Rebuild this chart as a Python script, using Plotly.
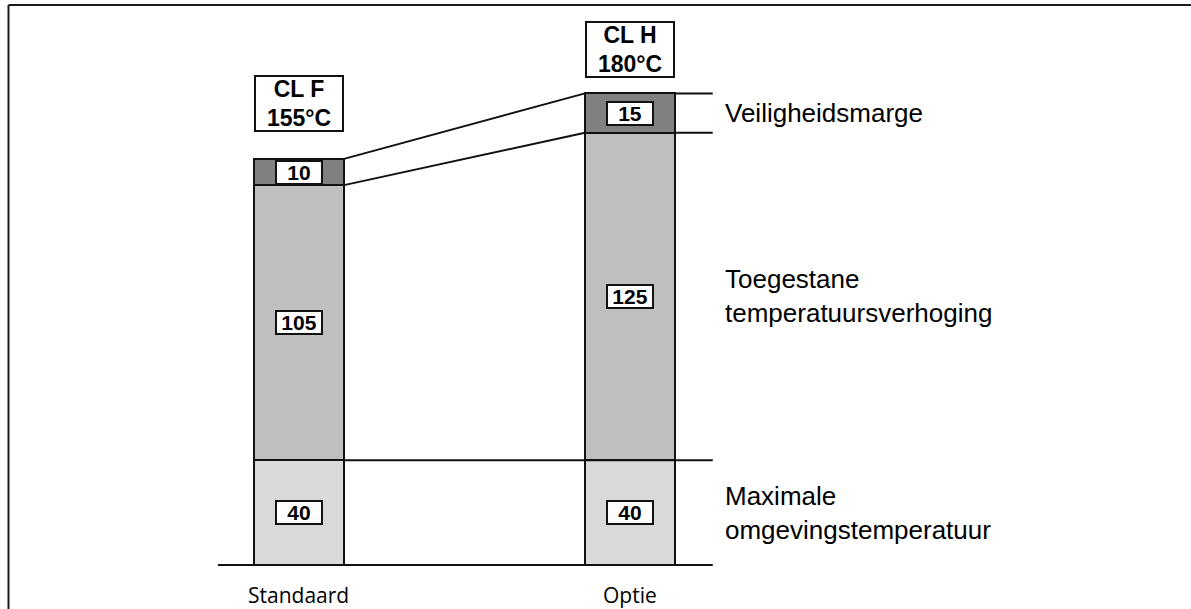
import plotly.graph_objects as go

# Two insulation classes, stacked temperature budget in °C
positions = [0, 1]
categories = ["Standaard", "Optie"]
class_labels = ["CL F<br>155°C", "CL H<br>180°C"]
ambient = [40, 40]            # Maximale omgevingstemperatuur
rise = [105, 125]             # Toegestane temperatuursverhoging
margin = [10, 15]             # Veiligheidsmarge
layer_names = ["Veiligheidsmarge", "Toegestane<br>temperatuursverhoging",
               "Maximale<br>omgevingstemperatuur"]

W, H = 1191, 609
BAR_W = 0.272
X_RANGE = [-0.9033, 2.6949]
Y_RANGE = [-16.79, 215.65]
GUIDE_END = 1.25
BASE_START = -0.245

layers = [
    (ambient, "#d9d9d9"),
    (rise, "#bfbfbf"),
    (margin, "#808080"),
]

fig = go.Figure()
for vals, col in layers:
    fig.add_trace(go.Bar(
        x=positions, y=vals, width=BAR_W,
        marker=dict(color=col, line=dict(color="#111111", width=2)),
        hoverinfo="skip", showlegend=False,
    ))

top_rise = [a + r for a, r in zip(ambient, rise)]
totals = [t + m for t, m in zip(top_rise, margin)]
line_style = dict(color="#111111", width=2)
shapes = []

# baseline
shapes.append(dict(type="line", xref="x", yref="y", x0=BASE_START, x1=GUIDE_END,
                   y0=0, y1=0, line=line_style))
# ambient level guide from first bar to the right
shapes.append(dict(type="line", xref="x", yref="y", x0=positions[0] + BAR_W / 2,
                   x1=GUIDE_END, y0=ambient[0], y1=ambient[1], line=line_style))
# guides to the right of the second bar
for yv in (top_rise[1], totals[1]):
    shapes.append(dict(type="line", xref="x", yref="y", x0=positions[1] + BAR_W / 2,
                       x1=GUIDE_END, y0=yv, y1=yv, line=line_style))
# connectors between the two bars
shapes.append(dict(type="line", xref="x", yref="y", x0=positions[0] + BAR_W / 2,
                   x1=positions[1] - BAR_W / 2, y0=totals[0], y1=totals[1], line=line_style))
shapes.append(dict(type="line", xref="x", yref="y", x0=positions[0] + BAR_W / 2,
                   x1=positions[1] - BAR_W / 2, y0=top_rise[0], y1=top_rise[1], line=line_style))
# outer frame (left and top edges)
frame = dict(color="#1a1a1a", width=2)
shapes.append(dict(type="line", xref="paper", yref="paper", x0=8.5 / W, x1=8.5 / W,
                   y0=0, y1=1 - 5 / H, line=frame))
shapes.append(dict(type="line", xref="paper", yref="paper", x0=8.5 / W, x1=1,
                   y0=1 - 5 / H, y1=1 - 5 / H, line=frame))

annotations = []
bold = dict(family="Liberation Sans, Arial, sans-serif", size=21, color="#000000", weight="bold")

# boxed value labels in each segment
for i, xp in enumerate(positions):
    mids = [ambient[i] / 2, ambient[i] + rise[i] / 2, top_rise[i] + margin[i] / 2]
    for yv, val in zip(mids, [ambient[i], rise[i], margin[i]]):
        annotations.append(dict(x=xp, y=yv, xref="x", yref="y", text=str(val),
                                showarrow=False, font=bold, bgcolor="#ffffff",
                                bordercolor="#111111", borderwidth=2, borderpad=0,
                                width=44, height=21))

# class boxes above bars
class_y = [176.0, 196.6]
for xp, yv, txt in zip(positions, class_y, class_labels):
    annotations.append(dict(x=xp, y=yv, xref="x", yref="y", text=txt, showarrow=False,
                            font=dict(family="Liberation Sans, Arial, sans-serif", size=23,
                                      color="#000000", weight="bold"),
                            bgcolor="#ffffff", bordercolor="#111111", borderwidth=2,
                            borderpad=0, width=86, height=53))

# layer descriptions on the right
side_font = dict(family="Liberation Sans, Arial, sans-serif", size=26, color="#000000")
side_y = [totals[1] - margin[1] / 2, ambient[1] + rise[1] / 2, ambient[1] / 2]
for yv, txt in zip(side_y, layer_names):
    annotations.append(dict(x=1.281, y=yv, xref="x", yref="y", text=txt, showarrow=False,
                            xanchor="left", yanchor="middle", align="left", font=side_font))

# category labels under the baseline
cat_font = dict(family="Open Sans, Noto Sans, sans-serif", size=21, color="#000000")
for xp, txt in zip(positions, categories):
    annotations.append(dict(x=xp, y=-11.45, xref="x", yref="y", text=txt, showarrow=False,
                            xanchor="center", yanchor="middle", font=cat_font))

fig.update_layout(
    width=W, height=H,
    margin=dict(l=0, r=0, t=0, b=0),
    barmode="stack",
    bargap=0,
    paper_bgcolor="#ffffff",
    plot_bgcolor="#ffffff",
    xaxis=dict(range=X_RANGE, visible=False, fixedrange=True),
    yaxis=dict(range=Y_RANGE, visible=False, fixedrange=True),
    shapes=shapes,
    annotations=annotations,
    showlegend=False,
)

fig.write_html("out.html", config={"displayModeBar": False})
